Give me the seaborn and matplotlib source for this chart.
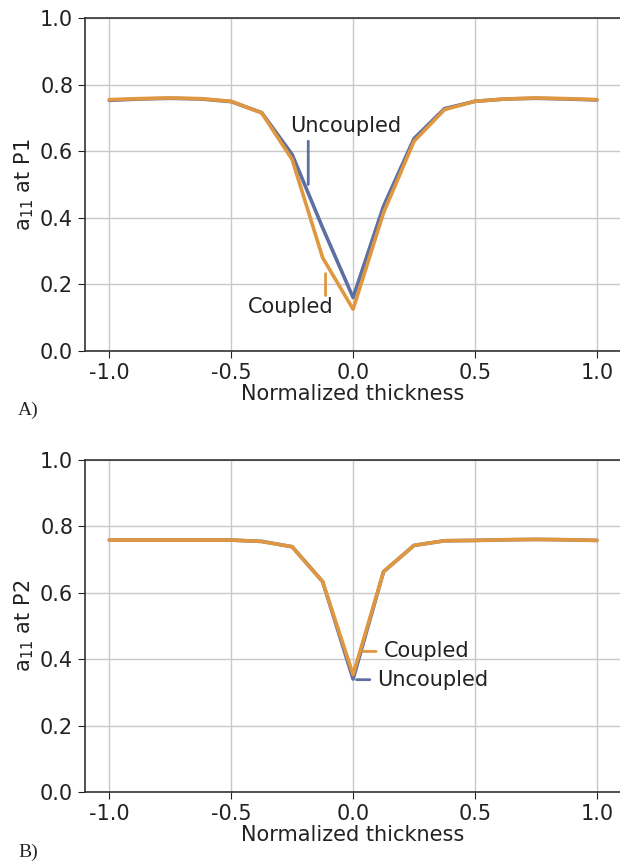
import matplotlib
matplotlib.use("Agg")
import matplotlib.pyplot as plt
import numpy as np
import pandas as pd
import seaborn as sns

# normalized thickness positions
thickness = [-1.0, -0.875, -0.75, -0.625, -0.5, -0.375, -0.25, -0.125, 0.0,
             0.125, 0.25, 0.375, 0.5, 0.625, 0.75, 0.875, 1.0]

# panel A: a11 at P1
p1_coupled = [0.755, 0.758, 0.760, 0.758, 0.750, 0.715, 0.575, 0.280, 0.125,
              0.415, 0.630, 0.725, 0.750, 0.757, 0.760, 0.758, 0.755]
p1_uncoupled = [0.753, 0.757, 0.759, 0.757, 0.749, 0.716, 0.590, 0.370, 0.160,
                0.435, 0.638, 0.728, 0.750, 0.757, 0.759, 0.757, 0.754]

# panel B: a11 at P2
p2_coupled = [0.758, 0.758, 0.758, 0.758, 0.758, 0.754, 0.738, 0.633, 0.353,
              0.663, 0.742, 0.756, 0.757, 0.759, 0.760, 0.759, 0.757]
p2_uncoupled = [0.758, 0.758, 0.758, 0.758, 0.758, 0.754, 0.738, 0.633, 0.340,
                0.663, 0.742, 0.756, 0.757, 0.759, 0.760, 0.759, 0.757]

blue = "#5e70a2"
orange = "#e0973f"
fs = 15

sns.set_style("ticks")
plt.rcParams['font.family'] = ['DejaVu Sans']
plt.rcParams['axes.unicode_minus'] = False


def make_df(coupled, uncoupled):
    return pd.DataFrame({
        "x": thickness * 2,
        "y": uncoupled + coupled,
        "model": ["Uncoupled"] * len(thickness) + ["Coupled"] * len(thickness),
    })


fig = plt.figure(figsize=(6.2, 8.64), dpi=100)
axA = fig.add_axes([0.137, 0.594, 0.865, 0.385])
axB = fig.add_axes([0.137, 0.0833, 0.865, 0.3847])

palette = {"Uncoupled": blue, "Coupled": orange}

for ax, df, ylab in [(axA, make_df(p1_coupled, p1_uncoupled), "a$_{11}$ at P1"),
                     (axB, make_df(p2_coupled, p2_uncoupled), "a$_{11}$ at P2")]:
    sns.lineplot(data=df, x="x", y="y", hue="model", palette=palette,
                 linewidth=2.6, legend=False, ax=ax)
    ax.set_xlim(-1.1, 1.1)
    ax.set_ylim(0, 1.0)
    ax.set_xticks([-1.0, -0.5, 0.0, 0.5, 1.0])
    ax.set_yticks([0.0, 0.2, 0.4, 0.6, 0.8, 1.0])
    ax.grid(True, color="#c8c8c8", linewidth=1.0)
    ax.tick_params(labelsize=fs, colors="#222222", length=5)
    ax.set_xlabel("Normalized thickness", fontsize=fs, color="#222222", labelpad=1)
    ax.set_ylabel(ylab, fontsize=fs, color="#222222", labelpad=3)
    for s in ax.spines.values():
        s.set_color("#333333")
        s.set_linewidth(1.2)

# annotations panel A
axA.text(-0.26, 0.675, "Uncoupled", fontsize=fs, color="#222222", va="center", ha="left")
axA.annotate("", xy=(-0.184, 0.50), xytext=(-0.184, 0.63),
             arrowprops=dict(arrowstyle="-", color=blue, lw=2, shrinkA=0, shrinkB=0))
axA.text(-0.43, 0.133, "Coupled", fontsize=fs, color="#222222", va="center", ha="left")
axA.annotate("", xy=(-0.113, 0.166), xytext=(-0.113, 0.232),
             arrowprops=dict(arrowstyle="-", color=orange, lw=2, shrinkA=0, shrinkB=0))

# annotations panel B
axB.annotate("Coupled", xy=(0.042, 0.423), xytext=(0.125, 0.423), fontsize=fs,
             color="#222222", va="center", ha="left",
             arrowprops=dict(arrowstyle="-", color=orange, lw=2, shrinkA=3, shrinkB=0))
axB.annotate("Uncoupled", xy=(0.014, 0.338), xytext=(0.099, 0.338), fontsize=fs,
             color="#222222", va="center", ha="left",
             arrowprops=dict(arrowstyle="-", color=blue, lw=2, shrinkA=3, shrinkB=0))

fig.text(0.029, 0.525, "A)", fontsize=14, family="Liberation Serif", va="center")
fig.text(0.029, 0.013, "B)", fontsize=14, family="Liberation Serif", va="center")

fig.savefig("out.png", dpi=100)
